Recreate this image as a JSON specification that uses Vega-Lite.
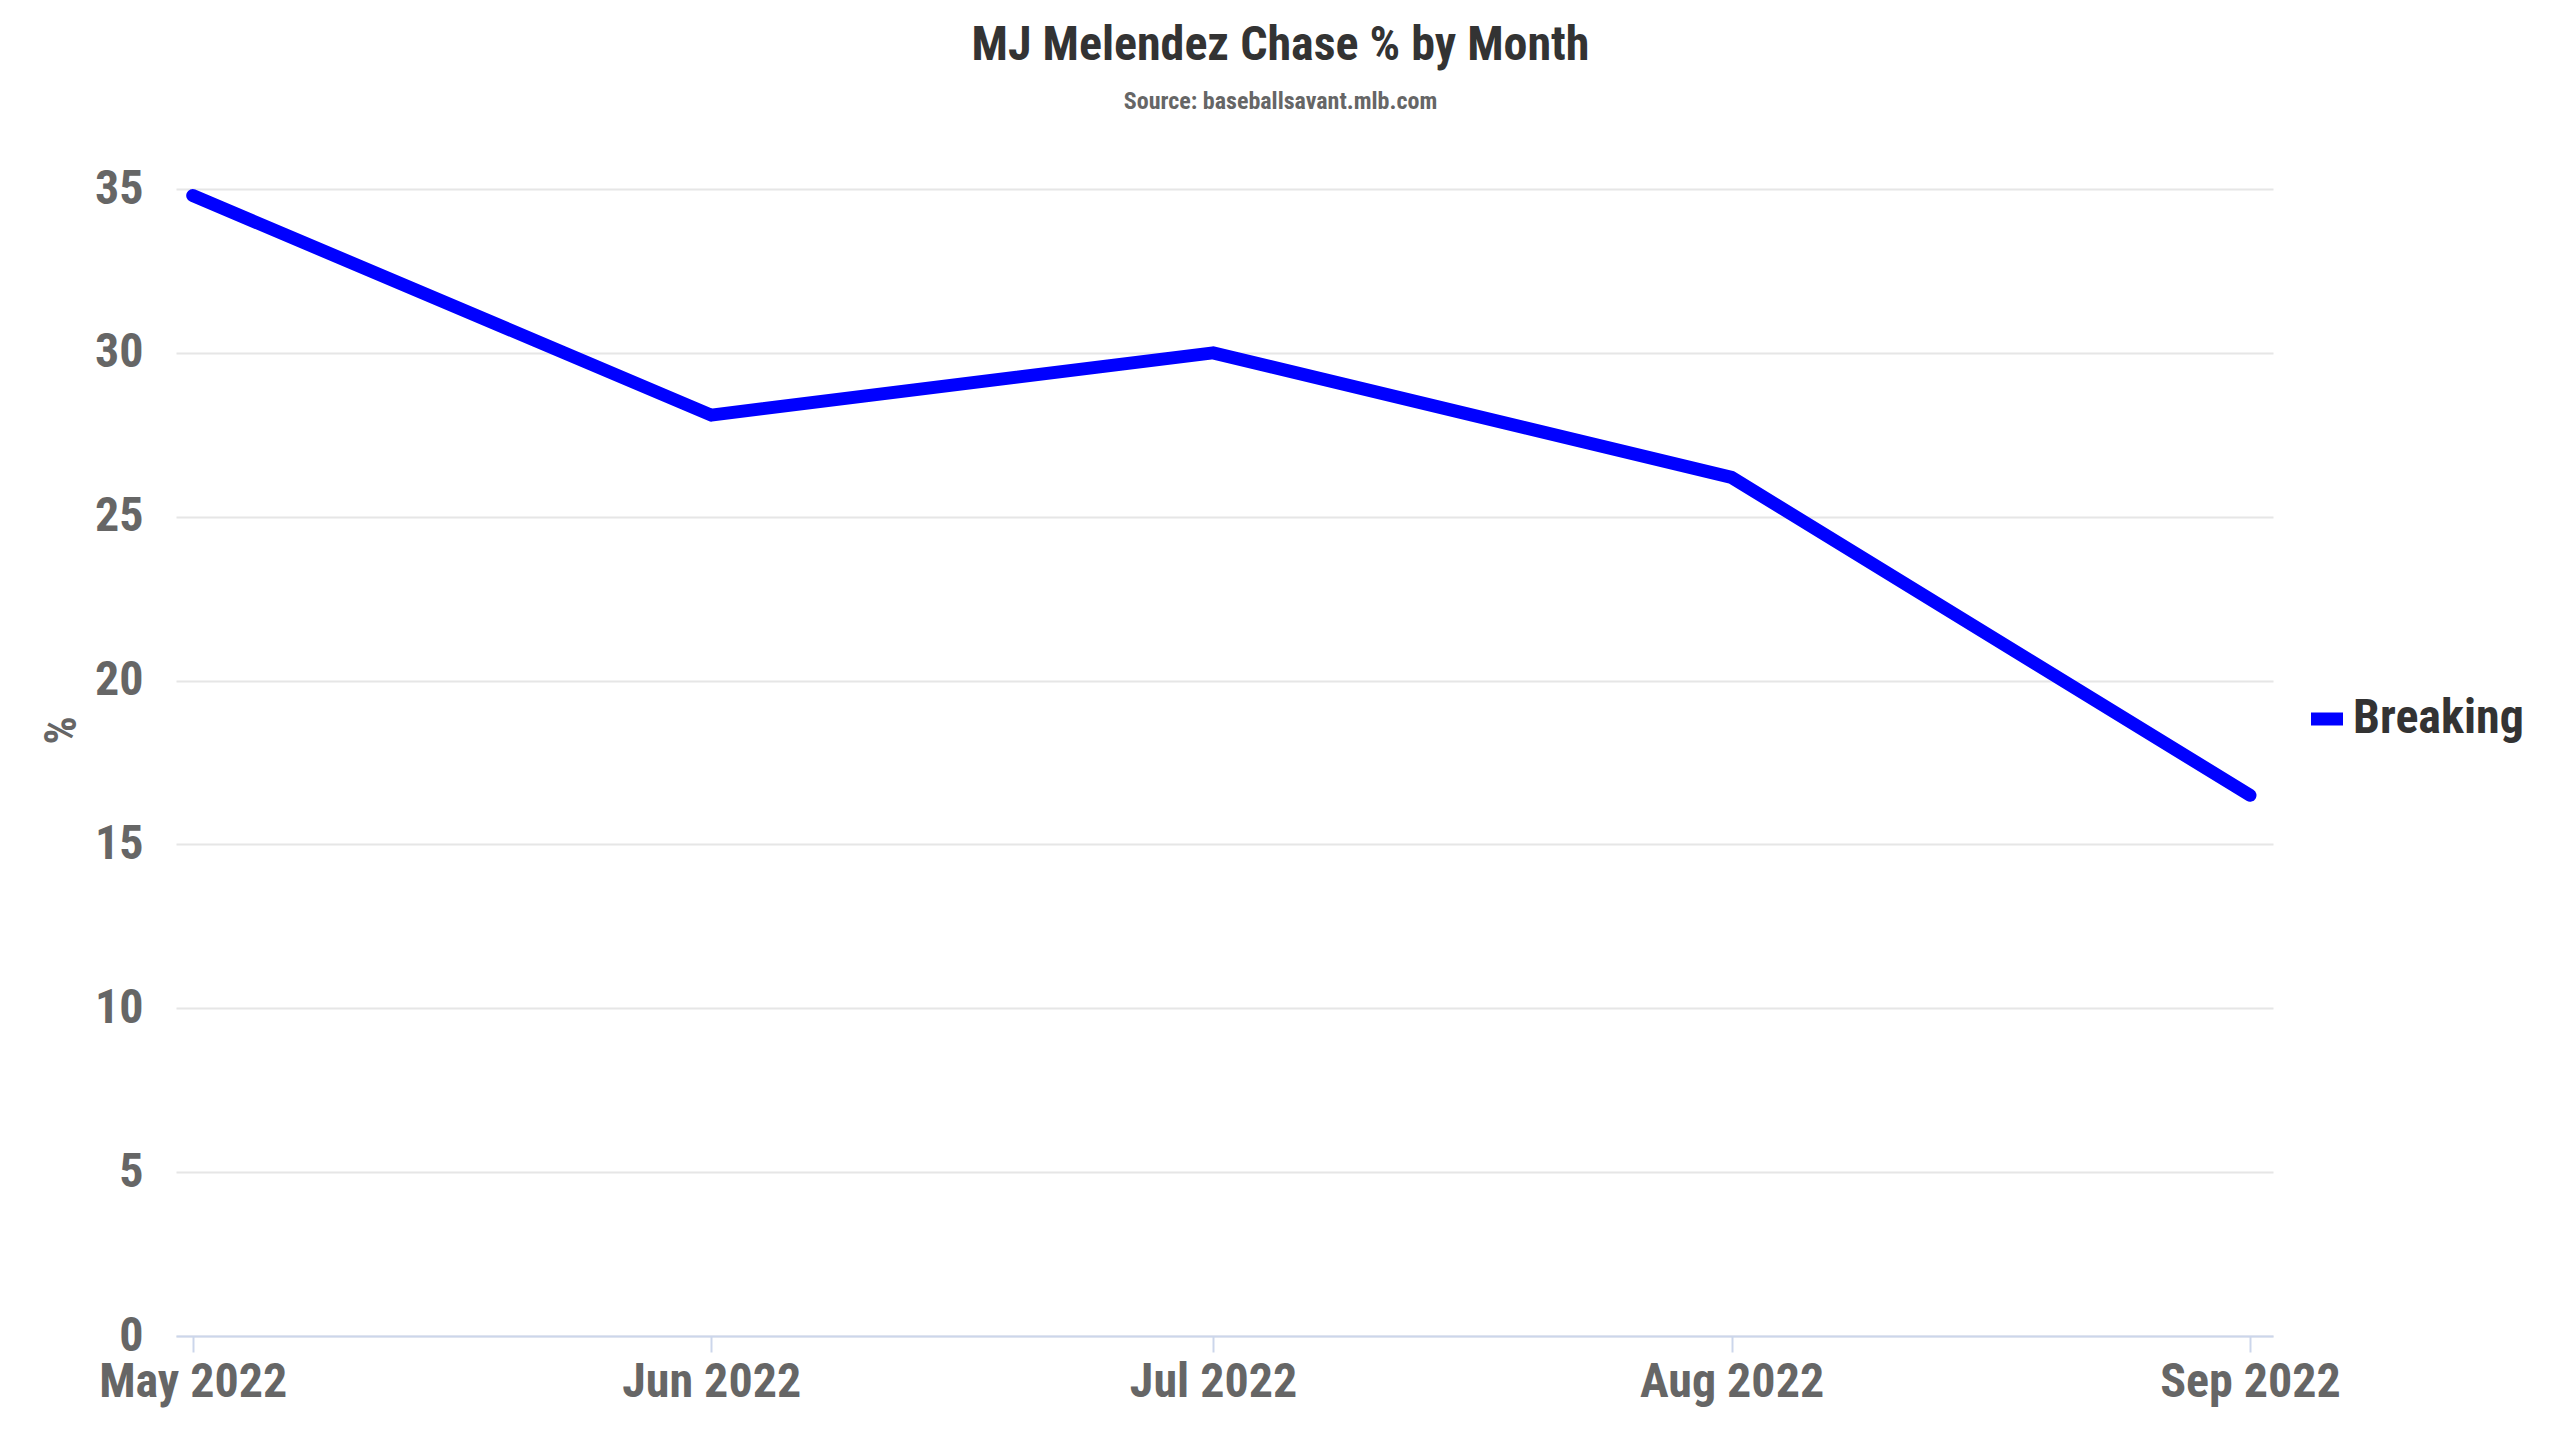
{
  "$schema": "https://vega.github.io/schema/vega-lite/v6.json",
  "autosize": {"type": "none"},
  "width": 2097,
  "height": 1147,
  "padding": {"left": 176, "top": 189, "right": 287, "bottom": 104},
  "background": "#ffffff",
  "title": {
    "text": "MJ Melendez Chase % by Month",
    "subtitle": "Source: baseballsavant.mlb.com",
    "anchor": "middle",
    "frame": "group",
    "dx": 56,
    "offset": 51,
    "fontSize": 48,
    "fontWeight": "bold",
    "color": "#333333",
    "subtitleFontSize": 24,
    "subtitleFontWeight": "bold",
    "subtitleColor": "#666666",
    "subtitlePadding": 20
  },
  "data": {
    "values": [
      {"month": "2022-05-01T00:00:00", "pitch": "Breaking", "chase": 34.8},
      {"month": "2022-06-01T00:00:00", "pitch": "Breaking", "chase": 28.1},
      {"month": "2022-07-01T00:00:00", "pitch": "Breaking", "chase": 30.0},
      {"month": "2022-08-01T00:00:00", "pitch": "Breaking", "chase": 26.2},
      {"month": "2022-09-01T00:00:00", "pitch": "Breaking", "chase": 16.5}
    ]
  },
  "mark": {
    "type": "line",
    "strokeWidth": 13,
    "strokeCap": "round",
    "strokeJoin": "round"
  },
  "encoding": {
    "x": {
      "field": "month",
      "type": "temporal",
      "title": null,
      "scale": {
        "domain": [
          {"year": 2022, "month": 4, "date": 30},
          {"year": 2022, "month": 9, "date": 2, "hours": 9}
        ]
      },
      "axis": {
        "values": [
          {"year": 2022, "month": 5, "date": 1},
          {"year": 2022, "month": 6, "date": 1},
          {"year": 2022, "month": 7, "date": 1},
          {"year": 2022, "month": 8, "date": 1},
          {"year": 2022, "month": 9, "date": 1}
        ],
        "format": "%b %Y",
        "grid": false,
        "domainColor": "#ccd6eb",
        "domainWidth": 2,
        "tickColor": "#ccd6eb",
        "tickWidth": 2,
        "tickSize": 16,
        "labelPadding": 6,
        "labelLimit": 0,
        "labelFontSize": 48,
        "labelFontWeight": "bold",
        "labelColor": "#666666",
        "labelFlush": false,
        "labelOverlap": false
      }
    },
    "y": {
      "field": "chase",
      "type": "quantitative",
      "title": "%",
      "scale": {"domain": [0, 35], "nice": false},
      "axis": {
        "values": [0, 5, 10, 15, 20, 25, 30, 35],
        "domain": false,
        "ticks": false,
        "gridColor": "#e6e6e6",
        "gridWidth": 2,
        "labelPadding": 33,
        "labelFontSize": 48,
        "labelFontWeight": "bold",
        "labelColor": "#666666",
        "titleFontSize": 44,
        "titleFontWeight": "bold",
        "titleColor": "#666666",
        "titlePadding": 10,
        "titleY": 541
      }
    },
    "color": {
      "field": "pitch",
      "type": "nominal",
      "scale": {"range": ["#0000ff"]},
      "legend": {
        "title": null,
        "orient": "none",
        "legendX": 2127,
        "legendY": 506,
        "symbolType": "stroke",
        "symbolSize": 1024,
        "symbolStrokeWidth": 13,
        "labelOffset": 2,
        "labelLimit": 0,
        "labelFontSize": 48,
        "labelFontWeight": "bold",
        "labelColor": "#333333"
      }
    }
  },
  "config": {
    "font": "Roboto Condensed, Liberation Sans Narrow, Roboto, sans-serif",
    "view": {"stroke": null}
  }
}
